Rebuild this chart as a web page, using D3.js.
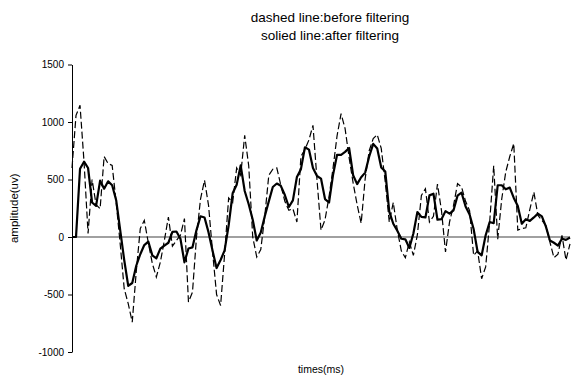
<!DOCTYPE html>
<html>
<head>
<meta charset="utf-8">
<script src="https://cdn.jsdelivr.net/npm/d3@7"></script>
<style>
  body { margin: 0; background: #fff; }
  svg { font-family: Arial, "Liberation Sans", sans-serif; }
</style>
</head>
<body>
<div id="chart"></div>
<script>
// amplitude (uv) per sample
var beforeFilter = [
  600, 1058, 1145, 652, 30, 500, 280, 246, 700, 638,
  623, 300, -60, -450, -580, -740, -300, 73, 145, -50,
  -230, -348, -218, -30, 174, -80, -30, 15, 160, -565,
  -479, 0, 330, 493, 275, -130, -500, -595, -150, 340,
  300, 600, 537, 884, 620, 0, -174, -110, 180, 537,
  590, 600, 450, 310, 232, 246, 130, 700, 760, 845,
  971, 500, 60, 150, 350, 600, 880, 1073, 942, 690,
  470, 280, 120, 508, 750, 855, 890, 770, 478, 130,
  300, 60, -120, -180, -44, -160, 20, 362, 420, 130,
  180, 460, 230, -130, 130, 275, 464, 435, 310, 230,
  -160, -120, -363, -260, 130, 620, -20, 330, 565, 700,
  812, 60, 73, 80, 240, 391, 190, 145, 100, -44,
  -180, -150, 15, -200, -60
];
var afterFilter = [
  0, 0, 594, 655, 600, 300, 270, 490, 420, 484,
  450, 320, 60, -200, -425, -400, -250, -150, -70, -40,
  -160, -185, -101, -75, -50, 45, 48, -15, -220, -100,
  -90, 60, 180, 170, 40, -120, -270, -200, -116, 100,
  380, 455, 623, 400, 285, 150, -30, 40, 180, 310,
  435, 465, 445, 365, 261, 319, 522, 590, 780, 760,
  600, 530, 508, 330, 300, 540, 715, 715, 740, 774,
  537, 460, 520, 560, 700, 810, 769, 605, 570, 220,
  115, 55, -15, -20, -95, 30, 217, 175, 170, 362,
  377, 150, 155, 225, 203, 232, 360, 385, 265, 195,
  70, -130, -160, 15, 130, 120, 450, 450, 415, 430,
  340, 270, 116, 155, 140, 170, 203, 180, 90, -30,
  -50, -75, -15, -25, -5
];
var yTicks = [-1000, -500, 0, 500, 1000, 1500];
var titleLines = ['dashed line:before filtering', 'solied line:after filtering'];

var width = 571, height = 379;
var plotLeft = 72, plotRight = 570, plotTop = 64.5, plotBottom = 352;

var svg = d3.select('#chart')
  .append('svg')
  .attr('width', width)
  .attr('height', height);

var x = d3.scaleLinear()
  .domain([0, afterFilter.length - 1])
  .range([plotLeft, plotRight]);
var y = d3.scaleLinear()
  .domain([-1000, 1500])
  .range([plotBottom, plotTop]);

// zero line
svg.append('line')
  .attr('x1', plotLeft).attr('x2', plotRight)
  .attr('y1', y(0)).attr('y2', y(0))
  .attr('stroke', '#808080')
  .attr('stroke-width', 1.5);

var yAxis = svg.append('g')
  .attr('transform', 'translate(' + plotLeft + ',0)')
  .call(d3.axisLeft(y).tickValues(yTicks).tickFormat(function(d) { return String(d); })
    .tickSize(4).tickPadding(4).tickSizeOuter(0));
yAxis.select('.domain').attr('stroke', '#000');
yAxis.selectAll('.tick line').attr('stroke', '#000');
yAxis.selectAll('.tick text')
  .attr('font-size', 10)
  .attr('fill', '#000')
  .style('font-family', 'Arial, "Liberation Sans", sans-serif');

var line = d3.line()
  .x(function(d, i) { return x(i); })
  .y(function(d) { return y(d); });

svg.append('path')
  .datum(beforeFilter)
  .attr('d', line)
  .attr('fill', 'none')
  .attr('stroke', '#000')
  .attr('stroke-width', 1.2)
  .attr('stroke-dasharray', '7,3');

svg.append('path')
  .datum(afterFilter)
  .attr('d', line)
  .attr('fill', 'none')
  .attr('stroke', '#000')
  .attr('stroke-width', 2.2)
  .attr('stroke-linejoin', 'round');

svg.selectAll('.title')
  .data(titleLines)
  .enter()
  .append('text')
  .attr('class', 'title')
  .attr('x', 330)
  .attr('y', function(d, i) { return 22 + i * 18; })
  .attr('text-anchor', 'middle')
  .attr('font-size', 13.5)
  .text(function(d) { return d; });

svg.append('text')
  .attr('transform', 'translate(18,' + ((plotTop + plotBottom) / 2) + ') rotate(-90)')
  .attr('text-anchor', 'middle')
  .attr('font-size', 11.5)
  .text('amplitude(uv)');

svg.append('text')
  .attr('x', 321)
  .attr('y', 373)
  .attr('text-anchor', 'middle')
  .attr('font-size', 10.5)
  .text('times(ms)');
</script>
</body>
</html>
